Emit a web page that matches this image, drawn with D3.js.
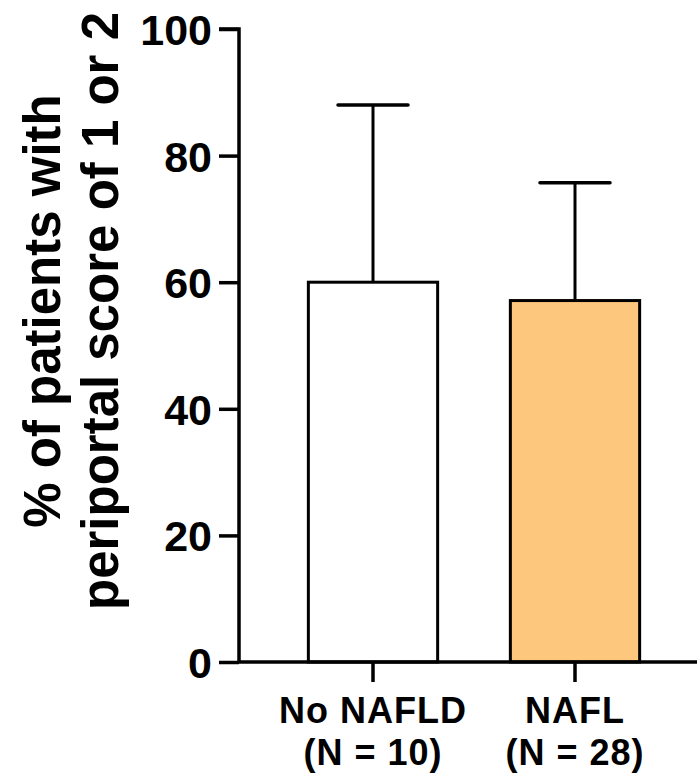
<!DOCTYPE html>
<html>
<head>
<meta charset="utf-8">
<script src="https://cdn.jsdelivr.net/npm/d3@7"></script>
<style>
  html, body { margin: 0; padding: 0; background: #fff; }
  svg { display: block; font-family: "Liberation Sans", Arial, sans-serif; font-weight: bold; }
</style>
</head>
<body>
<svg id="chart" width="697" height="777"></svg>
<script>
// Groups, sample sizes, means and upper error values (%)
const groups = ["No NAFLD", "NAFL"];
const sampleSizes = [10, 28];
const means = [60, 57.1];
const errors = [28, 18.6];
const fills = ["#ffffff", "#fdc77e"];
const yTicks = [0, 20, 40, 60, 80, 100];
const yTitleLines = ["% of patients with", "periportal score of 1 or 2"];

const svg = d3.select("#chart");
const x0 = 239, x1 = 697, yTop = 29, yBottom = 662;

const x = d3.scaleBand().domain(groups).range([272, 676]).paddingInner(0.36).paddingOuter(0.18);
const y = d3.scaleLinear().domain([0, 100]).range([yBottom, yTop]);

// Bars
svg.selectAll("rect.bar").data(groups).join("rect")
  .attr("class", "bar")
  .attr("x", d => x(d))
  .attr("width", x.bandwidth())
  .attr("y", (d, i) => y(means[i]))
  .attr("height", (d, i) => y(0) - y(means[i]))
  .attr("fill", (d, i) => fills[i])
  .attr("stroke", "#000")
  .attr("stroke-width", 3);

// Error bars (upper only)
const eb = svg.selectAll("g.err").data(groups).join("g").attr("class", "err");
eb.append("line")
  .attr("x1", d => x(d) + x.bandwidth() / 2)
  .attr("x2", d => x(d) + x.bandwidth() / 2)
  .attr("y1", (d, i) => y(means[i]))
  .attr("y2", (d, i) => y(means[i] + errors[i]))
  .attr("stroke", "#000").attr("stroke-width", 3);
eb.append("line")
  .attr("x1", d => x(d) + x.bandwidth() / 2 - 35)
  .attr("x2", d => x(d) + x.bandwidth() / 2 + 35)
  .attr("y1", (d, i) => y(means[i] + errors[i]))
  .attr("y2", (d, i) => y(means[i] + errors[i]))
  .attr("stroke", "#000").attr("stroke-width", 3.5).attr("stroke-linecap", "round");

// Y axis
const yAxis = svg.append("g")
  .attr("transform", `translate(${x0},0)`)
  .call(d3.axisLeft(y).tickValues(yTicks).tickSize(20).tickPadding(7).tickFormat(d3.format("d")));
yAxis.select(".domain").attr("d", `M-20,${yTop}H0V${yBottom}`).attr("stroke-width", 3.5);
yAxis.selectAll(".tick line").attr("stroke-width", 3.5);
yAxis.selectAll(".tick text").attr("font-size", 43).attr("font-weight", "bold")
  .attr("font-family", "Liberation Sans, Arial, sans-serif").attr("fill", "#000").attr("dy", "0.36em");

// X axis
const xAxis = svg.append("g")
  .attr("transform", `translate(0,${yBottom})`)
  .call(d3.axisBottom(x).tickSize(20).tickFormat(""));
xAxis.select(".domain").attr("d", `M${x0},0H${x1}`).attr("stroke-width", 3.5);
xAxis.selectAll(".tick line").attr("stroke-width", 3.5);

// Category labels
const lbl = svg.selectAll("text.cat").data(groups).join("text")
  .attr("class", "cat")
  .attr("text-anchor", "middle")
  .attr("font-size", 36)
  .attr("letter-spacing", 1)
  .attr("fill", "#000");
lbl.append("tspan").attr("x", d => x(d) + x.bandwidth() / 2).attr("y", 723).text(d => d);
lbl.append("tspan").attr("x", d => x(d) + x.bandwidth() / 2).attr("y", 765)
  .text((d, i) => `(N = ${sampleSizes[i]})`);

// Y title
const title = svg.append("text")
  .attr("transform", "translate(0,311) rotate(-90)")
  .attr("text-anchor", "middle")
  .attr("font-size", 51)
  .attr("fill", "#000");
title.selectAll("tspan").data(yTitleLines).join("tspan")
  .attr("x", 0)
  .attr("y", (d, i) => 60 + i * 58)
  .text(d => d);
</script>
</body>
</html>
